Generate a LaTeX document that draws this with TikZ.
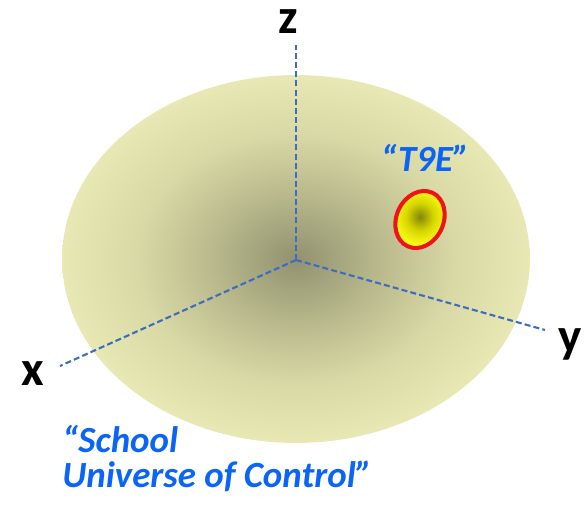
\documentclass[tikz,border=0pt]{standalone}
\usepackage{fontspec}
\setmainfont{Carlito}
\usetikzlibrary{shapes.geometric, positioning}
\definecolor{xaxis}{RGB}{62,108,192}
\definecolor{xblue}{RGB}{10,100,245}
\definecolor{xrim}{RGB}{236,20,20}
\pgfdeclareradialshading{universeglow}{\pgfpoint{0bp}{0bp}}{%
  rgb(0bp)=(0.57,0.57,0.44); rgb(8bp)=(0.71,0.71,0.54);
  rgb(17bp)=(0.85,0.85,0.65); rgb(25bp)=(0.91,0.91,0.71);
  rgb(50bp)=(0.91,0.91,0.71)}
\pgfdeclareradialshading{spotglow}{\pgfpoint{0bp}{0bp}}{%
  rgb(0bp)=(0.52,0.52,0.05); rgb(12bp)=(0.84,0.84,0);
  rgb(25bp)=(1,1,0.1); rgb(50bp)=(1,1,0.1)}
\begin{document}
\begin{tikzpicture}[
  x=0.02cm, y=0.02cm,
  universe/.style={ellipse, shading=universeglow, inner sep=0pt,
                   minimum width=9.36cm, minimum height=7.36cm},
  spot/.style={ellipse, shading=spotglow, draw=xrim, line width=2.3pt,
               inner sep=0pt, minimum width=0.94cm, minimum height=1.18cm},
  axis/.style={dash pattern=on 3.4pt off 1.8pt, line width=1.2pt, color=xaxis},
  axislabel/.style={font=\fontsize{28}{30}\selectfont\bfseries, anchor=base,
                    inner sep=0pt},
  tag/.style={font=\fontsize{21}{20}\selectfont\bfseries\itshape, text=xblue,
              inner sep=0pt}
]
  \useasboundingbox (0,0) rectangle (588,504);

  \node[universe] (U) at (296,245) {};

  \coordinate (O)    at (296,244);
  \coordinate (zend) at (296,459);
  \coordinate (xend) at (60,138);
  \coordinate (yend) at (545,174);

  \foreach \tip in {zend, xend, yend}
    \draw[axis] (O) -- (\tip);

  \node[axislabel] (zlab) at (288,470) {z};
  \node[axislabel] (xlab) at (33,119)  {x};
  \node[axislabel] (ylab) at (570,152) {y};

  \node[spot, rotate=-25] (T9E) at (420,284.5) {};
  \node[tag, anchor=base] (T9Elab) at (425,332) {“T9E”};

  \node[tag, align=left, anchor=north west] (school) at (62,79)
    {“School\\Universe of Control”};
\end{tikzpicture}
\end{document}
